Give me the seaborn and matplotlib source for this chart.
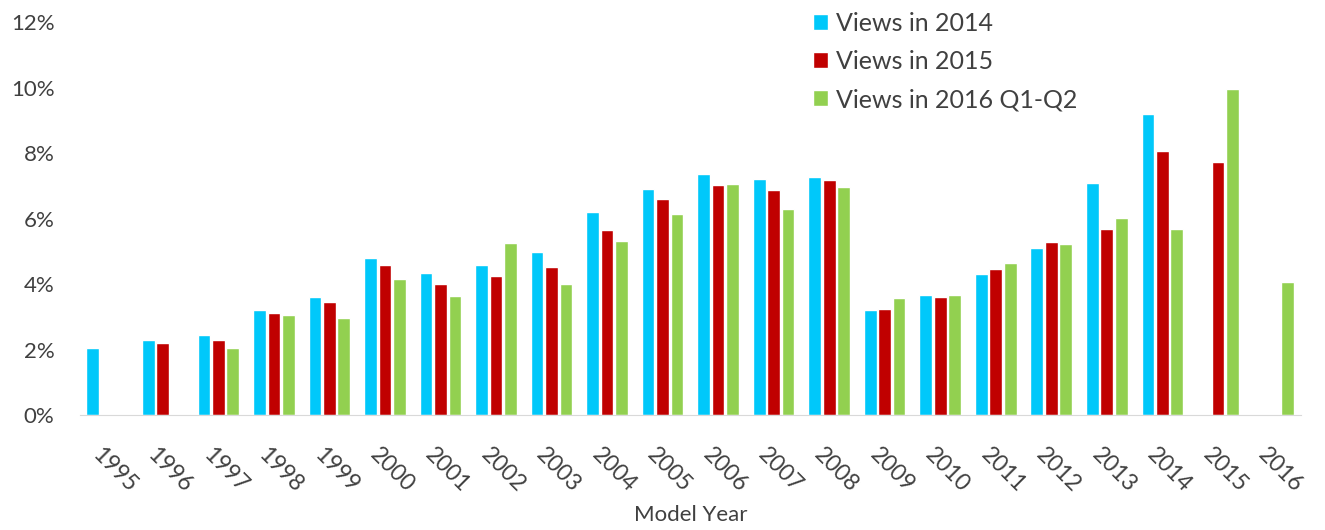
import pandas as pd
import numpy as np
import matplotlib
matplotlib.use("Agg")
import matplotlib.pyplot as plt
import matplotlib.transforms as mtransforms
import seaborn as sns

# Data (percent of views by model year)
years = [str(y) for y in range(1995, 2017)]
views_2014 = [2.05, 2.29, 2.44, 3.20, 3.60, 4.79, 4.33, 4.58, 4.97, 6.20, 6.92,
              7.37, 7.21, 7.27, 3.21, 3.66, 4.31, 5.09, 7.08, 9.19, np.nan, np.nan]
views_2015 = [np.nan, 2.20, 2.29, 3.11, 3.45, 4.57, 4.00, 4.24, 4.53, 5.66, 6.59,
              7.02, 6.87, 7.17, 3.25, 3.62, 4.46, 5.29, 5.68, 8.07, 7.72, np.nan]
views_2016 = [np.nan, np.nan, 2.05, 3.05, 2.96, 4.15, 3.63, 5.25, 4.00, 5.31, 6.15,
              7.06, 6.29, 6.97, 3.57, 3.66, 4.65, 5.23, 6.02, 5.68, 9.96, 4.05]
series_names = ["Views in 2014", "Views in 2015", "Views in 2016 Q1-Q2"]
colors = ["#00C8FA", "#C00000", "#92D050"]

df = pd.DataFrame({"year": years,
                   series_names[0]: views_2014,
                   series_names[1]: views_2015,
                   series_names[2]: views_2016})
long_df = df.melt(id_vars="year", var_name="series", value_name="share")

sns.set_style("white")
plt.rcParams["font.family"] = ["Lato", "DejaVu Sans"]
text_color = "#404040"

fig = plt.figure(figsize=(13.25, 5.3), dpi=100)
ax = fig.add_axes([0.06, 0.217, 0.922, 0.741])

sns.barplot(data=long_df, x="year", y="share", hue="series",
            hue_order=series_names, palette=colors, width=0.78, gap=0.12,
            saturation=1, ax=ax)

ax.set_ylim(0, 12)
ax.set_yticks(range(0, 13, 2))
ax.set_yticklabels([f"{v}%" for v in range(0, 13, 2)], fontsize=16, color=text_color)
ax.tick_params(axis="y", length=0, pad=18)
ax.tick_params(axis="x", length=0, pad=21)

# rotated year labels, nudged a little to the right like the original
shift = mtransforms.ScaledTranslation(0.07, 0, fig.dpi_scale_trans)
for lbl in ax.get_xticklabels():
    lbl.set_rotation(-45)
    lbl.set_ha("center")
    lbl.set_fontsize(16.5)
    lbl.set_color(text_color)
    lbl.set_transform(lbl.get_transform() + shift)

ax.set_xlabel("Model Year", fontsize=16, color=text_color, labelpad=6)
ax.set_ylabel("")

for side in ["top", "right", "left"]:
    ax.spines[side].set_visible(False)
ax.spines["bottom"].set_color("#D9D9D9")
ax.grid(False)

ax.legend(loc="upper left", bbox_to_anchor=(0.582, 1.083), frameon=False,
          fontsize=18, handlelength=0.6, handleheight=0.6, handletextpad=0.32,
          labelspacing=0.6, labelcolor=text_color)

fig.savefig("out.png", dpi=100)
